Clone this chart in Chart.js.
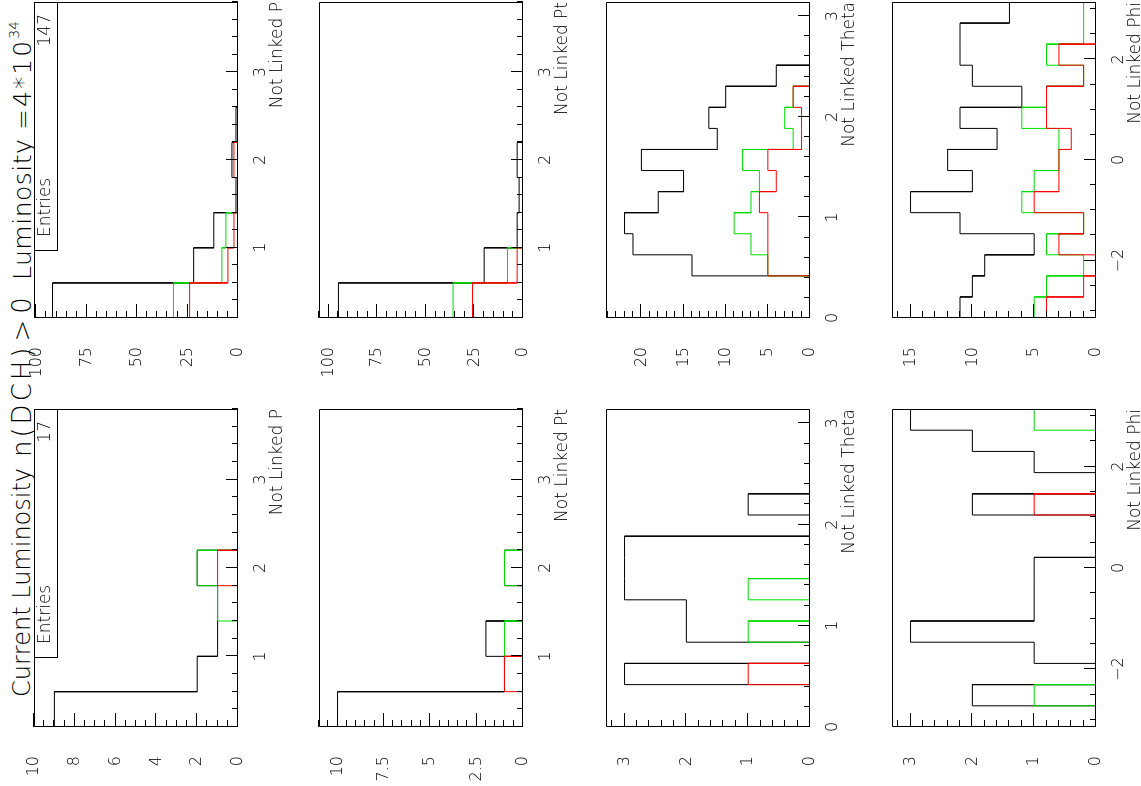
<!DOCTYPE html>
<html>
<head>
<meta charset="utf-8">
<script src="https://cdn.jsdelivr.net/npm/chart.js@4.4.1/dist/chart.umd.min.js"></script>
<style>
  html, body { margin: 0; padding: 0; background: #fff; overflow: hidden; }
  body { width: 1141px; height: 786px; position: relative; }
  /* the page is laid out upright (786 x 1141) and turned a quarter turn left */
  #page { position: absolute; left: 0; top: 0; width: 786px; height: 1141px;
          transform-origin: 0 0; transform: translate(0, 786px) rotate(-90deg); background: #fff; }
  #page canvas { position: absolute; }
  .ttl { position: absolute; top: 10px; font-family: 'DejaVu Sans', sans-serif; font-weight: 200;
         font-size: 24px; line-height: 25px; white-space: nowrap; color: #000; }
  .ttl sup { font-size: 14px; vertical-align: 12px; line-height: 0; letter-spacing: 0; }
  .gt { margin: 0 3px; }
</style>
</head>
<body>
<div id="page">
  <div class="ttl" style="left:89px">Current Luminosity</div>
  <div class="ttl" style="left:329px;font-size:26px;letter-spacing:3px">n(DCH)<span class="gt">&gt;</span>0</div>
  <div class="ttl" style="left:506px;font-size:25px;letter-spacing:0.5px">Luminosity</div>
  <div class="ttl" style="left:656px;font-size:25px;letter-spacing:2px">=4*10<sup>34</sup></div>
</div>
<script>
// ---- binning ----
const P_RANGE = [0.2, 3.8];            // 9 bins of 0.4
const THETA_RANGE = [0, Math.PI];      // 15 bins
const PHI_RANGE = [-Math.PI, Math.PI]; // 15 bins

// ---- entries shown in the stat boxes ----
const entriesCurrent = 17;
const entriesLumi = 147;

// ---- Not Linked P ----
const pCurBlack = [9, 2, 1, 1, 2, 0, 0, 0, 0];
const pCurGreen = [0, 0, 0, 1, 2, 0, 0, 0, 0];
const pCurRed   = [0, 0, 0, 0, 1, 0, 0, 0, 0];
const pLumBlack = [92, 22, 12, 1, 3, 1, 0, 0, 0];
const pLumGreen = [32, 8, 6, 0, 0, 0, 0, 0, 0];
const pLumRed   = [24, 5, 2, 0, 2, 0, 0, 0, 0];

// ---- Not Linked Pt ----
const ptCurBlack = [10, 1, 2, 0, 1, 0, 0, 0, 0];
const ptCurGreen = [0, 0, 1, 0, 1, 0, 0, 0, 0];
const ptCurRed   = [0, 1, 0, 0, 0, 0, 0, 0, 0];
const ptLumBlack = [95, 20, 3, 2, 3, 0, 0, 0, 0];
const ptLumGreen = [36, 8, 0, 0, 0, 0, 0, 0, 0];
const ptLumRed   = [26, 3, 0, 0, 0, 0, 0, 0, 0];

// ---- Not Linked Theta ----
const thCurBlack = [0, 0, 3, 0, 2, 2, 3, 3, 3, 0, 1, 0, 0, 0, 0];
const thCurGreen = [0, 0, 0, 0, 1, 0, 1, 0, 0, 0, 0, 0, 0, 0, 0];
const thCurRed   = [0, 0, 1, 0, 0, 0, 0, 0, 0, 0, 0, 0, 0, 0, 0];
const thLumBlack = [0, 0, 14, 21, 22, 18, 15, 20, 11, 12, 10, 4, 0, 0, 0];
const thLumGreen = [0, 0, 5, 7, 9, 7, 6, 8, 2, 3, 2, 0, 0, 0, 0];
const thLumRed   = [0, 0, 5, 5, 5, 6, 4, 5, 1, 1, 2, 0, 0, 0, 0];

// ---- Not Linked Phi ----
const phCurBlack = [0, 2, 0, 1, 3, 1, 1, 1, 0, 0, 2, 0, 1, 2, 3];
const phCurGreen = [0, 1, 0, 0, 0, 0, 0, 0, 0, 0, 0, 0, 0, 0, 1];
const phCurRed   = [0, 0, 0, 0, 0, 0, 0, 0, 0, 0, 1, 0, 0, 0, 0];
const phLumBlack = [11, 10, 9, 5, 11, 15, 10, 12, 8, 11, 6, 10, 11, 11, 7];
const phLumGreen = [5, 4, 1, 4, 1, 6, 5, 3, 3, 6, 4, 1, 4, 1, 1];
const phLumRed   = [4, 1, 0, 3, 1, 5, 3, 3, 2, 4, 4, 1, 3, 0, 0];

// ---- style ----
const FONT = "'DejaVu Sans', sans-serif";
const C_BLACK = '#000000';
const C_GREEN = '#00dd00';
const C_RED = '#ff0000';
const PAD_L = 60, PAD_T = 14, PAD_R = 8, PAD_B = 60, FRAME_H = 204;

// histogram outline: step through every bin, closing down to zero at both ends
function outline(range, counts) {
  const [lo, hi] = range;
  const w = (hi - lo) / counts.length;
  const pts = [{ x: lo, y: 0 }];
  counts.forEach((c, i) => {
    pts.push({ x: lo + i * w, y: c }, { x: lo + (i + 1) * w, y: c });
  });
  pts.push({ x: hi, y: 0 });
  return pts;
}

function tickValues(min, max, step) {
  const out = [];
  const k0 = Math.ceil(min / step - 1e-9), k1 = Math.floor(max / step + 1e-9);
  for (let k = k0; k <= k1; k++) out.push(k * step);
  return out;
}
const isMultiple = (v, step) => Math.abs(v / step - Math.round(v / step)) < 1e-6;

// frame, inward tick marks and optional stat box
const pawFrame = {
  id: 'pawFrame',
  afterDatasetsDraw(chart, args, o) {
    const { ctx, chartArea: a, scales: { x, y } } = chart;
    ctx.save();
    ctx.strokeStyle = '#000';
    ctx.lineWidth = 1;
    ctx.beginPath();
    ctx.rect(a.left + 0.5, a.top + 0.5, a.right - a.left - 1, a.bottom - a.top - 1);
    // value axis ticks, pointing right into the frame
    tickValues(y.min, y.max, o.yMinor).forEach(v => {
      const py = Math.round(y.getPixelForValue(v)) - 0.5;
      const len = isMultiple(v, o.yMajor) ? 14 : 7;
      ctx.moveTo(a.left, py); ctx.lineTo(a.left + len, py);
    });
    // variable axis ticks, pointing up into the frame
    tickValues(x.min, x.max, o.xMinor).forEach(v => {
      const px = Math.round(x.getPixelForValue(v)) + 0.5;
      const len = isMultiple(v, o.xMajor) ? 12 : 6;
      ctx.moveTo(px, a.bottom); ctx.lineTo(px, a.bottom - len);
    });
    ctx.stroke();
    if (o.entries !== undefined) {
      const bw = 249, bh = 23;
      const bx = a.right - bw, by = a.top;
      ctx.fillStyle = '#fff';
      ctx.fillRect(bx, by, bw, bh);
      ctx.strokeRect(bx + 0.5, by + 0.5, bw - 1, bh);
      ctx.fillStyle = '#000';
      ctx.font = '200 17px ' + FONT;
      ctx.textBaseline = 'middle';
      ctx.textAlign = 'left';
      ctx.fillText('Entries', bx + 14, by + 12);
      ctx.textAlign = 'right';
      ctx.fillText(String(o.entries), a.right - 12, by + 12);
    }
    ctx.restore();
  }
};

const fmt = v => (v < 0 ? '\u2212' : '') + Math.abs(+v.toFixed(3));

function panel(spec) {
  const W = spec.w + PAD_L + PAD_R, H = FRAME_H + PAD_T + PAD_B;
  const cv = document.createElement('canvas');
  cv.width = W; cv.height = H;
  cv.style.width = W + 'px'; cv.style.height = H + 'px';
  cv.style.left = (spec.left - PAD_L) + 'px';
  cv.style.top = (spec.top - PAD_T) + 'px';
  document.getElementById('page').appendChild(cv);
  const line = (counts, color) => ({
    data: outline(spec.range, counts), borderColor: color, borderWidth: 1,
    pointRadius: 0, fill: false, tension: 0
  });
  new Chart(cv, {
    type: 'line',
    data: { datasets: [line(spec.red, C_RED), line(spec.green, C_GREEN), line(spec.black, C_BLACK)] },
    options: {
      responsive: false, animation: false, events: [],
      layout: { padding: { left: 0, top: PAD_T, right: PAD_R, bottom: 0 } },
      plugins: {
        legend: { display: false }, tooltip: { enabled: false },
        pawFrame: { xMinor: spec.xMinor, xMajor: spec.xStep, yMinor: spec.yMinor, yMajor: spec.yStep, entries: spec.entries }
      },
      scales: {
        x: {
          type: 'linear', min: spec.range[0], max: spec.range[1],
          grid: { display: false }, border: { display: false },
          ticks: { stepSize: spec.xStep, includeBounds: false, autoSkip: false, maxRotation: 0,
                   padding: 5, color: '#000', font: { family: FONT, size: 16, weight: 200 }, callback: fmt },
          title: { display: true, text: spec.xTitle, align: 'end', color: '#000',
                   font: { family: FONT, size: 17, weight: 200 }, padding: { top: 0, bottom: 10 } },
          afterFit: s => { s.height = PAD_B; s.paddingLeft = 0; s.paddingRight = 0; }
        },
        y: {
          type: 'linear', min: 0, max: spec.yMax,
          grid: { display: false }, border: { display: false },
          ticks: { stepSize: spec.yStep, includeBounds: false, autoSkip: false,
                   padding: 21, color: '#000', font: { family: FONT, size: 16, weight: 200 }, callback: fmt },
          afterFit: s => { s.width = PAD_L; s.paddingTop = 0; s.paddingBottom = 0; }
        }
      }
    },
    plugins: [pawFrame]
  });
}

const ROW_TOP = [34, 319, 606, 892];
const COL_LEFT = [59, 468];
const COL_W = [318, 316];

const specs = [
  // left column: current luminosity
  { col: 0, row: 0, range: P_RANGE, xStep: 1, xMinor: 0.2, xTitle: 'Not Linked P', yMax: 10, yStep: 2, yMinor: 0.5,
    black: pCurBlack, green: pCurGreen, red: pCurRed, entries: entriesCurrent },
  { col: 0, row: 1, range: P_RANGE, xStep: 1, xMinor: 0.2, xTitle: 'Not Linked Pt', yMax: 11, yStep: 2.5, yMinor: 0.5,
    black: ptCurBlack, green: ptCurGreen, red: ptCurRed },
  { col: 0, row: 2, range: THETA_RANGE, xStep: 1, xMinor: 0.2, xTitle: 'Not Linked Theta', yMax: 3.3, yStep: 1, yMinor: 0.2,
    black: thCurBlack, green: thCurGreen, red: thCurRed },
  { col: 0, row: 3, range: PHI_RANGE, xStep: 2, xMinor: 0.5, xTitle: 'Not Linked Phi', yMax: 3.3, yStep: 1, yMinor: 0.2,
    black: phCurBlack, green: phCurGreen, red: phCurRed },
  // right column: luminosity 4*10^34
  { col: 1, row: 0, range: P_RANGE, xStep: 1, xMinor: 0.2, xTitle: 'Not Linked P', yMax: 101.2, yStep: 25, yMinor: 5,
    black: pLumBlack, green: pLumGreen, red: pLumRed, entries: entriesLumi },
  { col: 1, row: 1, range: P_RANGE, xStep: 1, xMinor: 0.2, xTitle: 'Not Linked Pt', yMax: 105, yStep: 25, yMinor: 5,
    black: ptLumBlack, green: ptLumGreen, red: ptLumRed },
  { col: 1, row: 2, range: THETA_RANGE, xStep: 1, xMinor: 0.2, xTitle: 'Not Linked Theta', yMax: 24.2, yStep: 5, yMinor: 1,
    black: thLumBlack, green: thLumGreen, red: thLumRed },
  { col: 1, row: 3, range: PHI_RANGE, xStep: 2, xMinor: 0.5, xTitle: 'Not Linked Phi', yMax: 16.5, yStep: 5, yMinor: 1,
    black: phLumBlack, green: phLumGreen, red: phLumRed }
];

specs.forEach(s => panel(Object.assign({ left: COL_LEFT[s.col], top: ROW_TOP[s.row], w: COL_W[s.col] }, s)));
</script>
</body>
</html>
